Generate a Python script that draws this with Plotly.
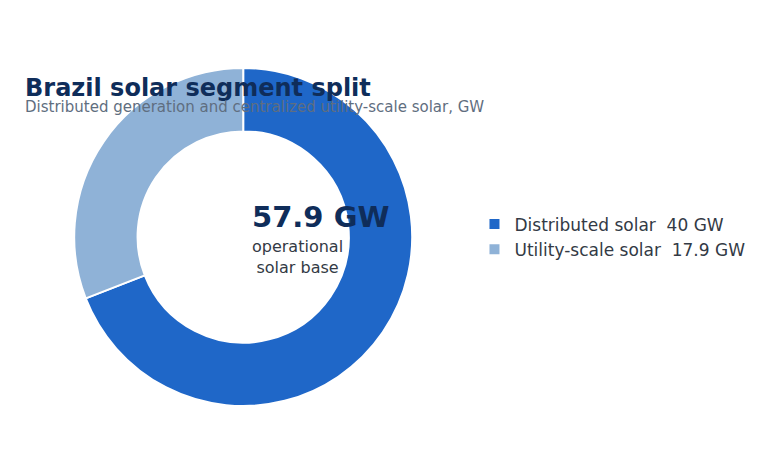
import plotly.graph_objects as go

labels = ['Distributed solar  40 GW', 'Utility-scale solar  17.9 GW']
values = [40, 17.9]
colors = ['#1f67c8', '#8fb2d7']
total_text = '57.9 GW'

fig = go.Figure()
fig.add_trace(go.Pie(labels=labels, values=values, hole=0.625, sort=False,
                     direction='counterclockwise', rotation=0,
                     marker=dict(colors=colors, line=dict(color='white', width=2)),
                     textinfo='none', domain=dict(x=[0, 0.6], y=[0, 1])))

fig.add_annotation(x=242, y=0.56, xref='x domain' if False else 'paper', yref='paper', text='<b>' + total_text + '</b>',
                   showarrow=False, font=dict(size=29, color='#0f2d5a'))
fig.layout.annotations[0].x = 242 / 784
fig.add_annotation(x=242 / 784, y=0.44, xref='paper', yref='paper', text='operational<br>solar base',
                   showarrow=False, font=dict(size=16, color='#333a45'))
fig.add_annotation(x=15 / 784, y=1 - 27 / 453, xref='paper', yref='paper', yanchor='middle', xanchor='left',
                   text='<b>Brazil solar segment split</b>', showarrow=False,
                   font=dict(size=24, color='#0f2d5a'))
fig.add_annotation(x=15 / 784, y=1 - 52 / 453, xref='paper', yref='paper', yanchor='middle', xanchor='left',
                   text='Distributed generation and centralized utility-scale solar, GW', showarrow=False,
                   font=dict(size=15, color='#5f6e80'))

fig.update_layout(width=784, height=453,
                  font=dict(family='DejaVu Sans'),
                  margin=dict(l=0, r=0, t=60, b=55),
                  legend=dict(x=0.595, y=0.5, xanchor='left', yanchor='middle',
                              font=dict(size=17, color='#333a45')),
                  paper_bgcolor='white')
fig.update_annotations(yref='container' if False else 'paper')
fig.layout.margin.t = 60
fig.write_html('out.html')
